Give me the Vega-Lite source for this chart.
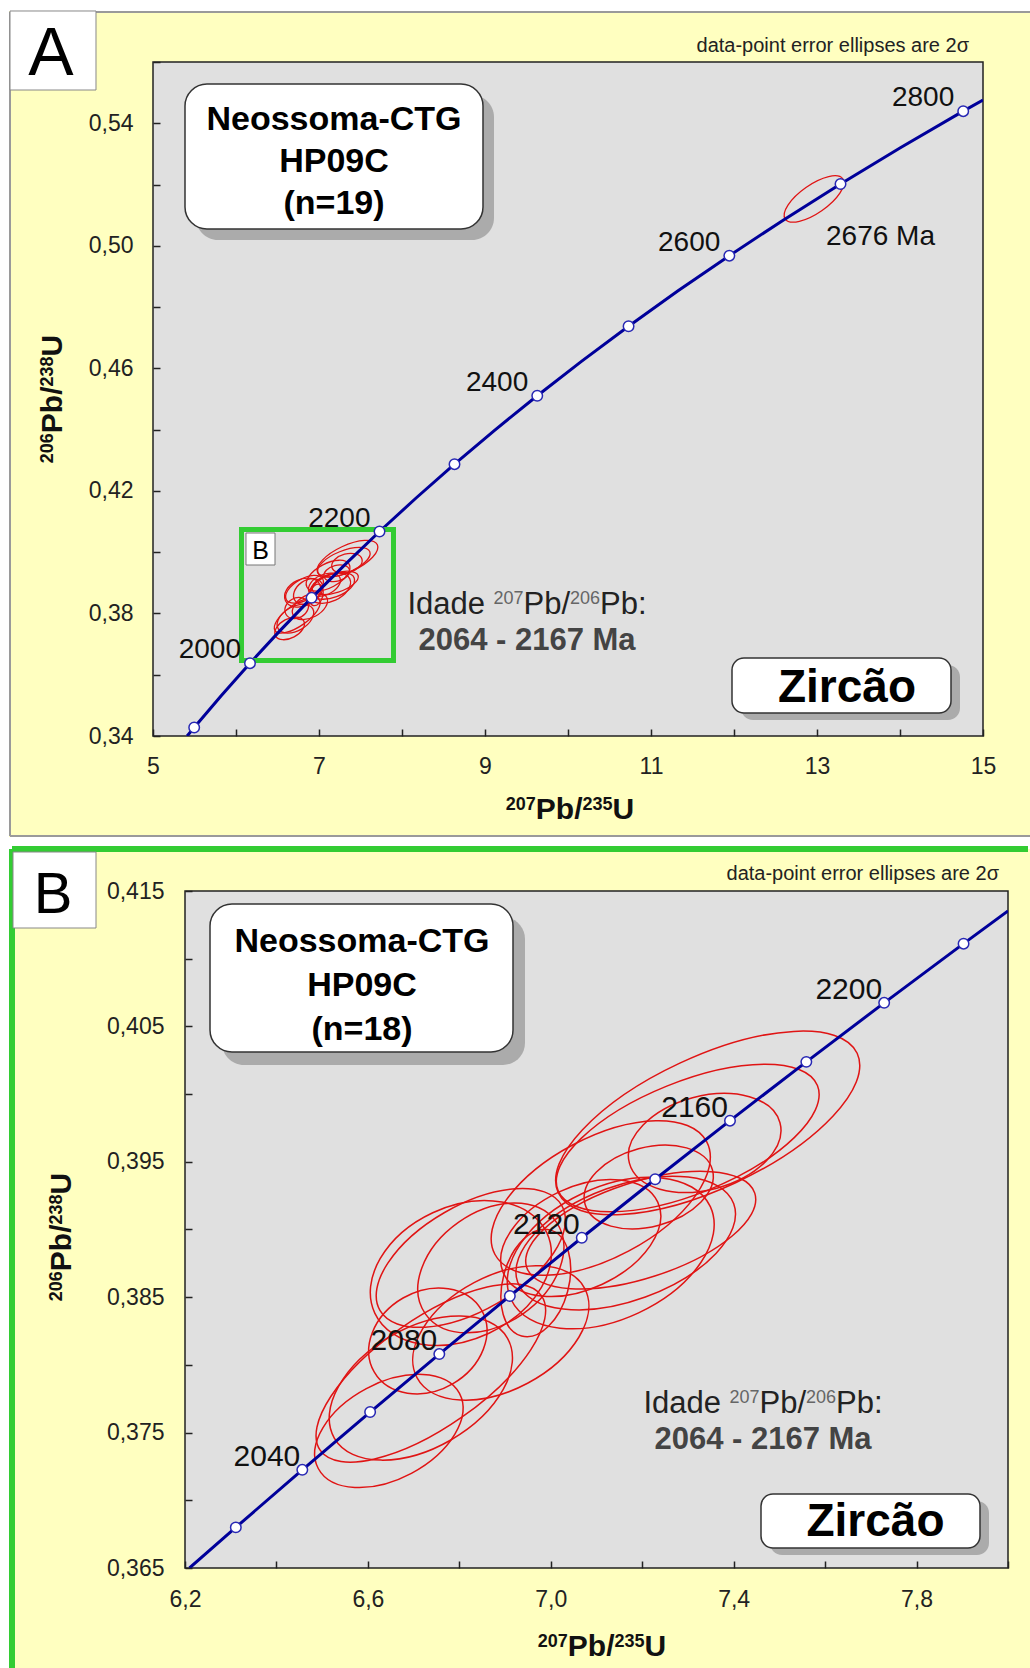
{
"$schema": "https://vega.github.io/schema/vega-lite/v6.json",
"background": "#FFFFFF",
"padding": {"left": 8, "top": 10, "right": 0, "bottom": 0},
"spacing": 7,
"resolve": {"scale": {"size": "independent", "shape": "independent", "angle": "independent"}},
"config": {"font": "Liberation Sans", "view": {"stroke": null}, "axis": {"domain": false, "grid": false}},
"datasets": {
"concA": [
{"t":1886.67,"x":5.41146,"y":0.34},
{"t":1900,"x":5.49619,"y":0.34277},
{"t":1950,"x":5.82408,"y":0.35323},
{"t":2000,"x":6.16852,"y":0.36377},
{"t":2050,"x":6.53036,"y":0.37439},
{"t":2100,"x":6.91046,"y":0.38509},
{"t":2150,"x":7.30973,"y":0.39587},
{"t":2200,"x":7.72916,"y":0.40674},
{"t":2250,"x":8.16977,"y":0.41769},
{"t":2300,"x":8.63262,"y":0.42873},
{"t":2350,"x":9.11882,"y":0.43986},
{"t":2400,"x":9.62957,"y":0.45107},
{"t":2450,"x":10.1661,"y":0.46237},
{"t":2500,"x":10.72972,"y":0.47375},
{"t":2550,"x":11.32177,"y":0.48523},
{"t":2600,"x":11.9437,"y":0.49679},
{"t":2650,"x":12.59704,"y":0.50845},
{"t":2700,"x":13.28335,"y":0.52019},
{"t":2750,"x":14.00431,"y":0.53203},
{"t":2800,"x":14.76166,"y":0.54396},
{"t":2815.24,"x":15.0,"y":0.54761}
],
"concB": [
{"t":2005.83,"x":6.2098,"y":0.365},
{"t":2020,"x":6.31113,"y":0.368},
{"t":2040,"x":6.45656,"y":0.37225},
{"t":2060,"x":6.60489,"y":0.37652},
{"t":2080,"x":6.75617,"y":0.3808},
{"t":2100,"x":6.91046,"y":0.38509},
{"t":2120,"x":7.0678,"y":0.38939},
{"t":2140,"x":7.2283,"y":0.39371},
{"t":2160,"x":7.39198,"y":0.39804},
{"t":2180,"x":7.55891,"y":0.40238},
{"t":2200,"x":7.72916,"y":0.40674},
{"t":2220,"x":7.90281,"y":0.41111},
{"t":2231.02,"x":8.0,"y":0.41353}
],
"ell": [
{"x":7.3432,"y":0.39787,"a":0.3607,"ratio":0.4,"tilt":25},
{"x":7.2995,"y":0.39676,"a":0.306,"ratio":0.4,"tilt":22},
{"x":7.3366,"y":0.39639,"a":0.1705,"ratio":0.6,"tilt":15},
{"x":7.2142,"y":0.39314,"a":0.1443,"ratio":0.6,"tilt":15},
{"x":7.1093,"y":0.39233,"a":0.2623,"ratio":0.5,"tilt":28},
{"x":7.1967,"y":0.38995,"a":0.2623,"ratio":0.4,"tilt":18},
{"x":7.1639,"y":0.389,"a":0.2514,"ratio":0.5,"tilt":20},
{"x":7.1311,"y":0.38826,"a":0.2404,"ratio":0.6,"tilt":25},
{"x":7.0656,"y":0.38937,"a":0.1858,"ratio":0.6,"tilt":25},
{"x":6.8251,"y":0.3879,"a":0.2295,"ratio":0.5,"tilt":30},
{"x":6.8033,"y":0.38679,"a":0.2077,"ratio":0.7,"tilt":25},
{"x":6.8689,"y":0.38716,"a":0.1749,"ratio":0.7,"tilt":35},
{"x":6.9672,"y":0.38605,"a":0.1202,"ratio":0.6,"tilt":75},
{"x":6.7311,"y":0.38177,"a":0.1355,"ratio":0.8,"tilt":30},
{"x":6.7377,"y":0.3794,"a":0.2951,"ratio":0.4,"tilt":35},
{"x":6.6459,"y":0.37512,"a":0.1749,"ratio":0.6,"tilt":28},
{"x":6.7158,"y":0.37829,"a":0.2186,"ratio":0.6,"tilt":30},
{"x":6.8907,"y":0.38236,"a":0.2077,"ratio":0.6,"tilt":28},
{"x":12.964,"y":0.5153,"a":0.384,"ratio":0.4,"tilt":35}
]
},
"vconcat": [
{
"width": 830, "height": 674,
"data": {"values": [{}]},
"layer": [
{"mark": {"type": "rect", "color": "#FFFFC0"}, "encoding": {"x": {"datum": 3.26506, "type": "quantitative"}, "x2": {"datum": 15.5783}, "y": {"datum": 0.576647, "type": "quantitative"}, "y2": {"datum": 0.307033}}},
{"mark": {"type": "rule", "color": "#9A9A9A", "strokeWidth": 2}, "encoding": {"x": {"datum": 3.27711, "type": "quantitative"}, "x2": {"datum": 15.56627}, "y": {"datum": 0.57632, "type": "quantitative"}}},
{"mark": {"type": "rule", "color": "#9A9A9A", "strokeWidth": 2}, "encoding": {"x": {"datum": 3.27711, "type": "quantitative"}, "y": {"datum": 0.57632, "type": "quantitative"}, "y2": {"datum": 0.307359}}},
{"mark": {"type": "rule", "color": "#9A9A9A", "strokeWidth": 2}, "encoding": {"x": {"datum": 3.27711, "type": "quantitative"}, "x2": {"datum": 15.56627}, "y": {"datum": 0.307359, "type": "quantitative"}}},
{"mark": {"type": "rect", "fill": "#E0E0E0", "stroke": "#222222", "strokeWidth": 1.5},
 "encoding": {
  "x": {"datum": 5, "type": "quantitative", "scale": {"domain": [5, 15], "nice": false, "zero": false},
   "axis": {"title": null, "values": [5,6,7,8,9,10,11,12,13,14,15], "format": "d", "labelExpr": "datum.value % 2 == 1 ? datum.label : ''", "tickSize": -7, "tickWidth": 1.5, "tickColor": "#222222", "labelFontSize": 23, "labelColor": "#222222", "labelPadding": 26, "labelFlush": false, "labelOverlap": false, "labelBaseline": "top", "zindex": 1}},
  "x2": {"datum": 15},
  "y": {"datum": 0.34, "type": "quantitative", "scale": {"domain": [0.34, 0.56], "nice": false, "zero": false},
   "axis": {"title": null, "values": [0.34,0.36,0.38,0.4,0.42,0.44,0.46,0.48,0.5,0.52,0.54,0.56], "labelExpr": "round(datum.value*100) % 4 == 2 ? replace(format(datum.value, '.2f'), '.', ',') : ''", "tickSize": -7, "tickWidth": 1.5, "tickColor": "#222222", "labelFontSize": 23, "labelColor": "#222222", "labelPadding": 27, "labelFlush": false, "labelOverlap": false, "zindex": 1}},
  "y2": {"datum": 0.56}}},
{"data": {"name": "ell"}, "mark": {"type": "point", "filled": false, "color": "#E01414", "strokeWidth": 1.3, "opacity": 1, "clip": true},
 "encoding": {"x": {"field": "x", "type": "quantitative"}, "y": {"field": "y", "type": "quantitative"},
  "shape": {"field": "ratio", "type": "nominal", "legend": null, "scale": {"domain": [0.4,0.5,0.6,0.7,0.8], "range": [
   "M1,0C1,0.2209 0.5523,0.4 0,0.4C-0.5523,0.4 -1,0.2209 -1,0C-1,-0.2209 -0.5523,-0.4 0,-0.4C0.5523,-0.4 1,-0.2209 1,0Z",
   "M1,0C1,0.2762 0.5523,0.5 0,0.5C-0.5523,0.5 -1,0.2762 -1,0C-1,-0.2762 -0.5523,-0.5 0,-0.5C0.5523,-0.5 1,-0.2762 1,0Z",
   "M1,0C1,0.3314 0.5523,0.6 0,0.6C-0.5523,0.6 -1,0.3314 -1,0C-1,-0.3314 -0.5523,-0.6 0,-0.6C0.5523,-0.6 1,-0.3314 1,0Z",
   "M1,0C1,0.3866 0.5523,0.7 0,0.7C-0.5523,0.7 -1,0.3866 -1,0C-1,-0.3866 -0.5523,-0.7 0,-0.7C0.5523,-0.7 1,-0.3866 1,0Z",
   "M1,0C1,0.4418 0.5523,0.8 0,0.8C-0.5523,0.8 -1,0.4418 -1,0C-1,-0.4418 -0.5523,-0.8 0,-0.8C0.5523,-0.8 1,-0.4418 1,0Z"]}},
  "size": {"field": "a", "type": "quantitative", "legend": null, "scale": {"type": "pow", "exponent": 2, "domain": [0, 1], "range": [0, 33440]}},
  "angle": {"field": "tilt", "type": "quantitative", "legend": null, "scale": {"domain": [0, 90], "range": [360, 270]}}}},
{"data": {"name": "concA"}, "mark": {"type": "line", "color": "#00009A", "strokeWidth": 3, "clip": true},
 "encoding": {"x": {"field": "x", "type": "quantitative"}, "y": {"field": "y", "type": "quantitative"}, "order": {"field": "t", "type": "quantitative"}}},
{"mark": {"type": "rect", "filled": false, "color": "#33CC33", "strokeWidth": 5}, "encoding": {"x": {"datum": 6.06627, "type": "quantitative"}, "x2": {"datum": 7.89759}, "y": {"datum": 0.407404, "type": "quantitative"}, "y2": {"datum": 0.364644}}},
{"data": {"name": "concA"}, "transform": [{"filter": "datum.t % 100 == 0"}], "mark": {"type": "point", "shape": "circle", "filled": true, "fill": "#FFFFFF", "stroke": "#2828B4", "strokeWidth": 1.5, "size": 110, "opacity": 1},
 "encoding": {"x": {"field": "x", "type": "quantitative"}, "y": {"field": "y", "type": "quantitative"}}},
{"data": {"name": "concA"}, "transform": [{"filter": "datum.t % 200 == 0"}], "mark": {"type": "text", "align": "right", "baseline": "alphabetic", "dx": -9, "dy": -5, "fontSize": 28, "color": "#111111"},
 "encoding": {"x": {"field": "x", "type": "quantitative"}, "y": {"field": "y", "type": "quantitative"}, "text": {"field": "t", "type": "quantitative", "format": "d"}}},
{"mark": {"type": "rect", "fill": "#FFFFFF", "stroke": "#777777", "strokeWidth": 1}, "encoding": {"x": {"datum": 6.12048, "type": "quantitative"}, "x2": {"datum": 6.46988}, "y": {"datum": 0.406261, "type": "quantitative"}, "y2": {"datum": 0.395816}}},
{"mark": {"type": "text", "text": "B", "fontSize": 25, "align": "center", "baseline": "alphabetic", "color": "#000000"}, "encoding": {"x": {"datum": 6.29518, "type": "quantitative"}, "y": {"datum": 0.397775, "type": "quantitative"}}},
{"mark": {"type": "rect", "fill": "#ABABAB", "cornerRadius": 22}, "encoding": {"x": {"datum": 5.51807, "type": "quantitative"}, "x2": {"datum": 9.10843}, "y": {"datum": 0.549229, "type": "quantitative"}, "y2": {"datum": 0.501899}}},
{"mark": {"type": "rect", "fill": "#FFFFFF", "stroke": "#333333", "strokeWidth": 1.5, "cornerRadius": 22}, "encoding": {"x": {"datum": 5.38554, "type": "quantitative"}, "x2": {"datum": 8.9759}, "y": {"datum": 0.552819, "type": "quantitative"}, "y2": {"datum": 0.50549}}},
{"mark": {"type": "text", "text": "Neossoma-CTG", "fontSize": 34, "fontWeight": "bold", "align": "center", "baseline": "alphabetic", "color": "#000000"}, "encoding": {"x": {"datum": 7.18072, "type": "quantitative"}, "y": {"datum": 0.537804, "type": "quantitative"}}},
{"mark": {"type": "text", "text": "HP09C", "fontSize": 34, "fontWeight": "bold", "align": "center", "baseline": "alphabetic", "color": "#000000"}, "encoding": {"x": {"datum": 7.18072, "type": "quantitative"}, "y": {"datum": 0.524095, "type": "quantitative"}}},
{"mark": {"type": "text", "text": "(n=19)", "fontSize": 34, "fontWeight": "bold", "align": "center", "baseline": "alphabetic", "color": "#000000"}, "encoding": {"x": {"datum": 7.18072, "type": "quantitative"}, "y": {"datum": 0.510386, "type": "quantitative"}}},
{"mark": {"type": "rect", "fill": "#ABABAB", "cornerRadius": 12}, "encoding": {"x": {"datum": 12.08434, "type": "quantitative"}, "x2": {"datum": 14.72289}, "y": {"datum": 0.363175, "type": "quantitative"}, "y2": {"datum": 0.345223}}},
{"mark": {"type": "rect", "fill": "#FFFFFF", "stroke": "#333333", "strokeWidth": 1.5, "cornerRadius": 12}, "encoding": {"x": {"datum": 11.9759, "type": "quantitative"}, "x2": {"datum": 14.61446}, "y": {"datum": 0.36546, "type": "quantitative"}, "y2": {"datum": 0.347507}}},
{"mark": {"type": "text", "text": "Zircão", "fontSize": 46, "fontWeight": "bold", "align": "center", "baseline": "alphabetic", "color": "#000000"}, "encoding": {"x": {"datum": 13.36145, "type": "quantitative"}, "y": {"datum": 0.351098, "type": "quantitative"}}},
{"mark": {"type": "text", "text": "Idade", "fontSize": 31, "align": "left", "baseline": "alphabetic", "color": "#222222"}, "encoding": {"x": {"datum": 8.06506, "type": "quantitative"}, "y": {"datum": 0.379822, "type": "quantitative"}}},
{"mark": {"type": "text", "text": "207", "fontSize": 18, "align": "left", "baseline": "alphabetic", "color": "#666666"}, "encoding": {"x": {"datum": 9.10361, "type": "quantitative"}, "y": {"datum": 0.383086, "type": "quantitative"}}},
{"mark": {"type": "text", "text": "Pb/", "fontSize": 31, "align": "left", "baseline": "alphabetic", "color": "#222222"}, "encoding": {"x": {"datum": 9.46506, "type": "quantitative"}, "y": {"datum": 0.379822, "type": "quantitative"}}},
{"mark": {"type": "text", "text": "206", "fontSize": 18, "align": "left", "baseline": "alphabetic", "color": "#666666"}, "encoding": {"x": {"datum": 10.0253, "type": "quantitative"}, "y": {"datum": 0.383086, "type": "quantitative"}}},
{"mark": {"type": "text", "text": "Pb:", "fontSize": 31, "align": "left", "baseline": "alphabetic", "color": "#222222"}, "encoding": {"x": {"datum": 10.38675, "type": "quantitative"}, "y": {"datum": 0.379822, "type": "quantitative"}}},
{"mark": {"type": "text", "text": "2064 - 2167 Ma", "fontSize": 31, "fontWeight": "bold", "align": "center", "baseline": "alphabetic", "color": "#444444"}, "encoding": {"x": {"datum": 9.50602, "type": "quantitative"}, "y": {"datum": 0.368071, "type": "quantitative"}}},
{"mark": {"type": "text", "text": "2676 Ma", "fontSize": 28, "align": "left", "baseline": "alphabetic", "color": "#111111"}, "encoding": {"x": {"datum": 13.10843, "type": "quantitative"}, "y": {"datum": 0.500266, "type": "quantitative"}}},
{"mark": {"type": "rect", "fill": "#FFFFFF", "stroke": "#888888", "strokeWidth": 1}, "encoding": {"x": {"datum": 3.27711, "type": "quantitative"}, "x2": {"datum": 4.31325}, "y": {"datum": 0.576647, "type": "quantitative"}, "y2": {"datum": 0.55086}}},
{"mark": {"type": "text", "text": "A", "fontSize": 68, "align": "center", "baseline": "alphabetic", "color": "#000000"}, "encoding": {"x": {"datum": 3.77108, "type": "quantitative"}, "y": {"datum": 0.555757, "type": "quantitative"}}},
{"mark": {"type": "text", "text": "data-point error ellipses are 2σ", "fontSize": 20, "align": "right", "baseline": "alphabetic", "color": "#222222"}, "encoding": {"x": {"datum": 14.83133, "type": "quantitative"}, "y": {"datum": 0.563264, "type": "quantitative"}}},
{"mark": {"type": "text", "text": "207", "fontSize": 18, "fontWeight": "bold", "align": "left", "baseline": "alphabetic", "color": "#111111"}, "encoding": {"x": {"datum": 9.2506, "type": "quantitative"}, "y": {"datum": 0.315845, "type": "quantitative"}}},
{"mark": {"type": "text", "text": "Pb/", "fontSize": 30, "fontWeight": "bold", "align": "left", "baseline": "alphabetic", "color": "#111111"}, "encoding": {"x": {"datum": 9.61205, "type": "quantitative"}, "y": {"datum": 0.312908, "type": "quantitative"}}},
{"mark": {"type": "text", "text": "235", "fontSize": 18, "fontWeight": "bold", "align": "left", "baseline": "alphabetic", "color": "#111111"}, "encoding": {"x": {"datum": 10.1747, "type": "quantitative"}, "y": {"datum": 0.315845, "type": "quantitative"}}},
{"mark": {"type": "text", "text": "U", "fontSize": 30, "fontWeight": "bold", "align": "left", "baseline": "alphabetic", "color": "#111111"}, "encoding": {"x": {"datum": 10.53614, "type": "quantitative"}, "y": {"datum": 0.312908, "type": "quantitative"}}},
{"mark": {"type": "text", "text": "206", "fontSize": 18, "fontWeight": "bold", "angle": 270, "align": "left", "baseline": "alphabetic", "color": "#111111"}, "encoding": {"x": {"datum": 3.79518, "type": "quantitative"}, "y": {"datum": 0.429045, "type": "quantitative"}}},
{"mark": {"type": "text", "text": "Pb/", "fontSize": 30, "fontWeight": "bold", "angle": 270, "align": "left", "baseline": "alphabetic", "color": "#111111"}, "encoding": {"x": {"datum": 3.90361, "type": "quantitative"}, "y": {"datum": 0.438838, "type": "quantitative"}}},
{"mark": {"type": "text", "text": "238", "fontSize": 18, "fontWeight": "bold", "angle": 270, "align": "left", "baseline": "alphabetic", "color": "#111111"}, "encoding": {"x": {"datum": 3.79518, "type": "quantitative"}, "y": {"datum": 0.454081, "type": "quantitative"}}},
{"mark": {"type": "text", "text": "U", "fontSize": 30, "fontWeight": "bold", "angle": 270, "align": "left", "baseline": "alphabetic", "color": "#111111"}, "encoding": {"x": {"datum": 3.90361, "type": "quantitative"}, "y": {"datum": 0.463873, "type": "quantitative"}}}
]
},
{
"width": 855, "height": 677,
"data": {"values": [{}]},
"layer": [
{"mark": {"type": "rect", "color": "#FFFFC0"}, "encoding": {"x": {"datum": 5.81507, "type": "quantitative"}, "x2": {"datum": 8.05031}, "y": {"datum": 0.418102, "type": "quantitative"}, "y2": {"datum": 0.357393}}},
{"mark": {"type": "rule", "color": "#33CC33", "strokeWidth": 6}, "encoding": {"x": {"datum": 5.82163, "type": "quantitative"}, "x2": {"datum": 8.04375}, "y": {"datum": 0.418102, "type": "quantitative"}}},
{"mark": {"type": "rule", "color": "#33CC33", "strokeWidth": 6}, "encoding": {"x": {"datum": 5.82163, "type": "quantitative"}, "y": {"datum": 0.418102, "type": "quantitative"}, "y2": {"datum": 0.357614}}},
{"mark": {"type": "rect", "fill": "#E0E0E0", "stroke": "#222222", "strokeWidth": 1.5},
 "encoding": {
  "x": {"datum": 6.2, "type": "quantitative", "scale": {"domain": [6.130012, 8.0], "nice": false, "zero": false},
   "axis": {"title": null, "values": [6.2,6.4,6.6,6.8,7.0,7.2,7.4,7.6,7.8,8.0], "labelExpr": "round(datum.value*10) % 4 == 2 ? replace(format(datum.value, '.1f'), '.', ',') : ''", "tickSize": -7, "tickWidth": 1.5, "tickColor": "#222222", "labelFontSize": 23, "labelColor": "#222222", "labelPadding": 27, "labelFlush": false, "labelOverlap": false, "labelBaseline": "top", "zindex": 1}},
  "x2": {"datum": 8.0},
  "y": {"datum": 0.365, "type": "quantitative", "scale": {"domain": [0.365, 0.415], "nice": false, "zero": false},
   "axis": {"title": null, "offset": -32, "values": [0.365,0.37,0.375,0.38,0.385,0.39,0.395,0.4,0.405,0.41,0.415], "labelExpr": "round(datum.value*1000) % 10 == 5 ? replace(format(datum.value, '.3f'), '.', ',') : ''", "tickSize": -7, "tickWidth": 1.5, "tickColor": "#222222", "labelFontSize": 23, "labelColor": "#222222", "labelPadding": 28, "labelFlush": false, "labelOverlap": false, "zindex": 1}},
  "y2": {"datum": 0.415}}},
{"data": {"name": "ell"}, "transform": [{"filter": "datum.x < 8.5"}], "mark": {"type": "point", "filled": false, "color": "#E01414", "strokeWidth": 1.5, "opacity": 1, "clip": true},
 "encoding": {"x": {"field": "x", "type": "quantitative"}, "y": {"field": "y", "type": "quantitative"},
  "shape": {"field": "ratio", "type": "nominal", "legend": null, "scale": {"domain": [0.4,0.5,0.6,0.7,0.8], "range": [
   "M1,0C1,0.2209 0.5523,0.4 0,0.4C-0.5523,0.4 -1,0.2209 -1,0C-1,-0.2209 -0.5523,-0.4 0,-0.4C0.5523,-0.4 1,-0.2209 1,0Z",
   "M1,0C1,0.2762 0.5523,0.5 0,0.5C-0.5523,0.5 -1,0.2762 -1,0C-1,-0.2762 -0.5523,-0.5 0,-0.5C0.5523,-0.5 1,-0.2762 1,0Z",
   "M1,0C1,0.3314 0.5523,0.6 0,0.6C-0.5523,0.6 -1,0.3314 -1,0C-1,-0.3314 -0.5523,-0.6 0,-0.6C0.5523,-0.6 1,-0.3314 1,0Z",
   "M1,0C1,0.3866 0.5523,0.7 0,0.7C-0.5523,0.7 -1,0.3866 -1,0C-1,-0.3866 -0.5523,-0.7 0,-0.7C0.5523,-0.7 1,-0.3866 1,0Z",
   "M1,0C1,0.4418 0.5523,0.8 0,0.8C-0.5523,0.8 -1,0.4418 -1,0C-1,-0.4418 -0.5523,-0.8 0,-0.8C0.5523,-0.8 1,-0.4418 1,0Z"]}},
  "size": {"field": "a", "type": "quantitative", "legend": null, "scale": {"type": "pow", "exponent": 2, "domain": [0, 1], "range": [0, 836200]}},
  "angle": {"field": "tilt", "type": "quantitative", "legend": null, "scale": {"domain": [0, 90], "range": [360, 270]}}}},
{"data": {"name": "concB"}, "mark": {"type": "line", "color": "#00009A", "strokeWidth": 3, "clip": true},
 "encoding": {"x": {"field": "x", "type": "quantitative"}, "y": {"field": "y", "type": "quantitative"}, "order": {"field": "t", "type": "quantitative"}}},
{"data": {"name": "concB"}, "transform": [{"filter": "datum.t % 20 == 0"}], "mark": {"type": "point", "shape": "circle", "filled": true, "fill": "#FFFFFF", "stroke": "#2828B4", "strokeWidth": 1.5, "size": 110, "opacity": 1},
 "encoding": {"x": {"field": "x", "type": "quantitative"}, "y": {"field": "y", "type": "quantitative"}}},
{"data": {"name": "concB"}, "transform": [{"filter": "datum.t % 40 == 0"}], "mark": {"type": "text", "align": "right", "baseline": "alphabetic", "dx": -2, "dy": -4, "fontSize": 30, "color": "#111111"},
 "encoding": {"x": {"field": "x", "type": "quantitative"}, "y": {"field": "y", "type": "quantitative"}, "text": {"field": "t", "type": "quantitative", "format": "d"}}},
{"mark": {"type": "rect", "fill": "#ABABAB", "cornerRadius": 22}, "encoding": {"x": {"datum": 6.28092, "type": "quantitative"}, "x2": {"datum": 6.94362}, "y": {"datum": 0.41308, "type": "quantitative"}, "y2": {"datum": 0.402149}}},
{"mark": {"type": "rect", "fill": "#FFFFFF", "stroke": "#333333", "strokeWidth": 1.5, "cornerRadius": 22}, "encoding": {"x": {"datum": 6.25468, "type": "quantitative"}, "x2": {"datum": 6.91738}, "y": {"datum": 0.41404, "type": "quantitative"}, "y2": {"datum": 0.403109}}},
{"mark": {"type": "text", "text": "Neossoma-CTG", "fontSize": 34, "fontWeight": "bold", "align": "center", "baseline": "alphabetic", "color": "#000000"}, "encoding": {"x": {"datum": 6.58712, "type": "quantitative"}, "y": {"datum": 0.410495, "type": "quantitative"}}},
{"mark": {"type": "text", "text": "HP09C", "fontSize": 34, "fontWeight": "bold", "align": "center", "baseline": "alphabetic", "color": "#000000"}, "encoding": {"x": {"datum": 6.58712, "type": "quantitative"}, "y": {"datum": 0.407245, "type": "quantitative"}}},
{"mark": {"type": "text", "text": "(n=18)", "fontSize": 34, "fontWeight": "bold", "align": "center", "baseline": "alphabetic", "color": "#000000"}, "encoding": {"x": {"datum": 6.58712, "type": "quantitative"}, "y": {"datum": 0.403996, "type": "quantitative"}}},
{"mark": {"type": "rect", "fill": "#ABABAB", "cornerRadius": 12}, "encoding": {"x": {"datum": 7.47946, "type": "quantitative"}, "x2": {"datum": 7.95845}, "y": {"datum": 0.369948, "type": "quantitative"}, "y2": {"datum": 0.36596}}},
{"mark": {"type": "rect", "fill": "#FFFFFF", "stroke": "#333333", "strokeWidth": 1.5, "cornerRadius": 12}, "encoding": {"x": {"datum": 7.45978, "type": "quantitative"}, "x2": {"datum": 7.93877}, "y": {"datum": 0.370465, "type": "quantitative"}, "y2": {"datum": 0.366477}}},
{"mark": {"type": "text", "text": "Zircão", "fontSize": 46, "fontWeight": "bold", "align": "center", "baseline": "alphabetic", "color": "#000000"}, "encoding": {"x": {"datum": 7.71022, "type": "quantitative"}, "y": {"datum": 0.367363, "type": "quantitative"}}},
{"mark": {"type": "text", "text": "Idade", "fontSize": 31, "align": "left", "baseline": "alphabetic", "color": "#222222"}, "encoding": {"x": {"datum": 7.20258, "type": "quantitative"}, "y": {"datum": 0.376448, "type": "quantitative"}}},
{"mark": {"type": "text", "text": "207", "fontSize": 18, "align": "left", "baseline": "alphabetic", "color": "#666666"}, "encoding": {"x": {"datum": 7.39111, "type": "quantitative"}, "y": {"datum": 0.377186, "type": "quantitative"}}},
{"mark": {"type": "text", "text": "Pb/", "fontSize": 31, "align": "left", "baseline": "alphabetic", "color": "#222222"}, "encoding": {"x": {"datum": 7.45673, "type": "quantitative"}, "y": {"datum": 0.376448, "type": "quantitative"}}},
{"mark": {"type": "text", "text": "206", "fontSize": 18, "align": "left", "baseline": "alphabetic", "color": "#666666"}, "encoding": {"x": {"datum": 7.55842, "type": "quantitative"}, "y": {"datum": 0.377186, "type": "quantitative"}}},
{"mark": {"type": "text", "text": "Pb:", "fontSize": 31, "align": "left", "baseline": "alphabetic", "color": "#222222"}, "encoding": {"x": {"datum": 7.62404, "type": "quantitative"}, "y": {"datum": 0.376448, "type": "quantitative"}}},
{"mark": {"type": "text", "text": "2064 - 2167 Ma", "fontSize": 31, "fontWeight": "bold", "align": "center", "baseline": "alphabetic", "color": "#444444"}, "encoding": {"x": {"datum": 7.46416, "type": "quantitative"}, "y": {"datum": 0.373789, "type": "quantitative"}}},
{"mark": {"type": "rect", "fill": "#FFFFFF", "stroke": "#888888", "strokeWidth": 1}, "encoding": {"x": {"datum": 5.82382, "type": "quantitative"}, "x2": {"datum": 6.00535}, "y": {"datum": 0.41788, "type": "quantitative"}, "y2": {"datum": 0.412267}}},
{"mark": {"type": "text", "text": "B", "fontSize": 58, "align": "center", "baseline": "alphabetic", "color": "#000000"}, "encoding": {"x": {"datum": 5.9113, "type": "quantitative"}, "y": {"datum": 0.413375, "type": "quantitative"}}},
{"mark": {"type": "text", "text": "data-point error ellipses are 2σ", "fontSize": 20, "align": "right", "baseline": "alphabetic", "color": "#222222"}, "encoding": {"x": {"datum": 7.98032, "type": "quantitative"}, "y": {"datum": 0.415812, "type": "quantitative"}}},
{"mark": {"type": "text", "text": "207", "fontSize": 18, "fontWeight": "bold", "align": "left", "baseline": "alphabetic", "color": "#111111"}, "encoding": {"x": {"datum": 6.97162, "type": "quantitative"}, "y": {"datum": 0.359165, "type": "quantitative"}}},
{"mark": {"type": "text", "text": "Pb/", "fontSize": 30, "fontWeight": "bold", "align": "left", "baseline": "alphabetic", "color": "#111111"}, "encoding": {"x": {"datum": 7.03724, "type": "quantitative"}, "y": {"datum": 0.358501, "type": "quantitative"}}},
{"mark": {"type": "text", "text": "235", "fontSize": 18, "fontWeight": "bold", "align": "left", "baseline": "alphabetic", "color": "#111111"}, "encoding": {"x": {"datum": 7.13937, "type": "quantitative"}, "y": {"datum": 0.359165, "type": "quantitative"}}},
{"mark": {"type": "text", "text": "U", "fontSize": 30, "fontWeight": "bold", "align": "left", "baseline": "alphabetic", "color": "#111111"}, "encoding": {"x": {"datum": 7.20499, "type": "quantitative"}, "y": {"datum": 0.358501, "type": "quantitative"}}},
{"mark": {"type": "text", "text": "206", "fontSize": 18, "fontWeight": "bold", "angle": 270, "align": "left", "baseline": "alphabetic", "color": "#111111"}, "encoding": {"x": {"datum": 5.930983, "type": "quantitative"}, "y": {"datum": 0.384705, "type": "quantitative"}}},
{"mark": {"type": "text", "text": "Pb/", "fontSize": 30, "fontWeight": "bold", "angle": 270, "align": "left", "baseline": "alphabetic", "color": "#111111"}, "encoding": {"x": {"datum": 5.950667, "type": "quantitative"}, "y": {"datum": 0.38692, "type": "quantitative"}}},
{"mark": {"type": "text", "text": "238", "fontSize": 18, "fontWeight": "bold", "angle": 270, "align": "left", "baseline": "alphabetic", "color": "#111111"}, "encoding": {"x": {"datum": 5.930983, "type": "quantitative"}, "y": {"datum": 0.390369, "type": "quantitative"}}},
{"mark": {"type": "text", "text": "U", "fontSize": 30, "fontWeight": "bold", "angle": 270, "align": "left", "baseline": "alphabetic", "color": "#111111"}, "encoding": {"x": {"datum": 5.950667, "type": "quantitative"}, "y": {"datum": 0.392585, "type": "quantitative"}}}
]
}
]
}
